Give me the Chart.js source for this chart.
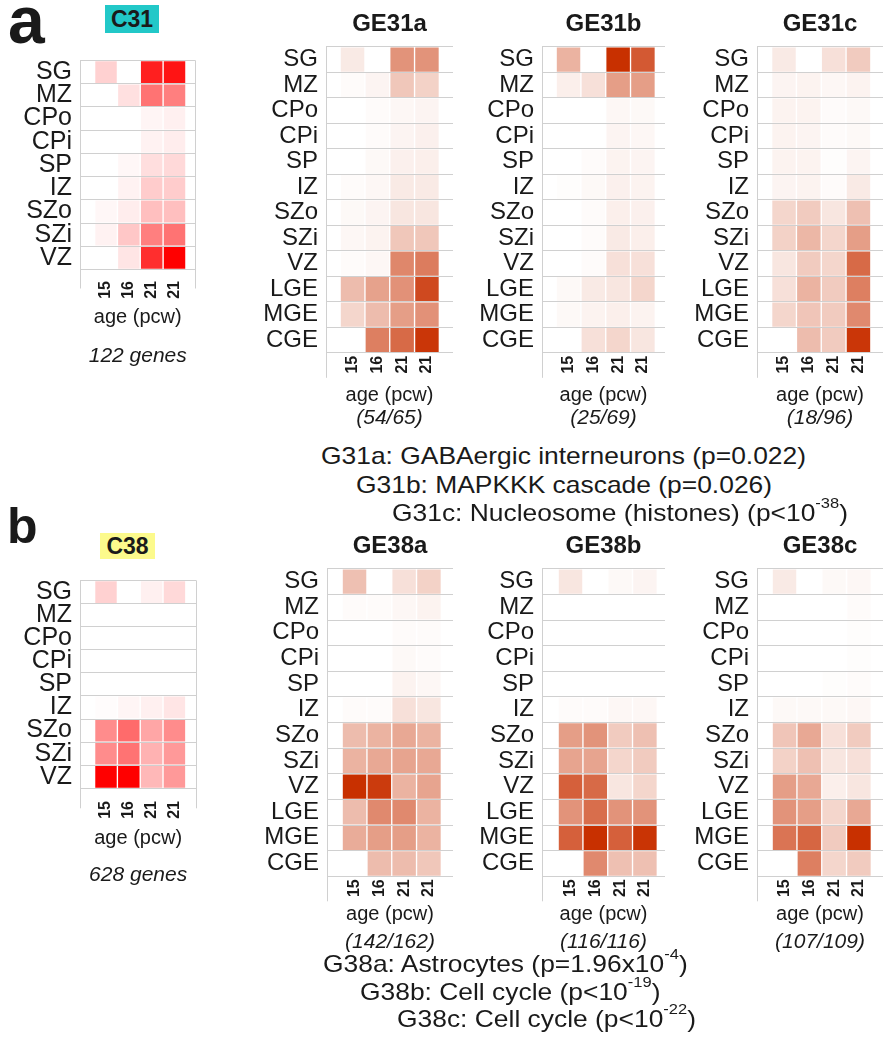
<!DOCTYPE html>
<html>
<head>
<meta charset="utf-8">
<script src="https://cdn.jsdelivr.net/npm/chart.js@4.4.1/dist/chart.umd.min.js"></script>
<style>
    body { margin: 0; background: #fff; }
    #page { position: relative; width: 893px; height: 1050px; overflow: hidden; font-family: 'Liberation Sans', Arial, sans-serif; color: #1a1a1a; }
    canvas { position: absolute; }
    .txt { position: absolute; white-space: nowrap; }
    .letter { font-weight: bold; }
    .badge { font-weight: bold; font-size: 23px; display: flex; align-items: center; justify-content: center; }
    .note { font-size: 24px; line-height: 24px; transform: scaleX(1.1); transform-origin: 0 0; }
    .note span { font-size: 15px; line-height: 0; vertical-align: 13px; }
</style>
</head>
<body>
<div id="page">
    <div class="txt letter" style="left:8px; top:-13px; font-size:66px; line-height:66px;">a</div>
    <div class="txt badge" style="left:105px; top:5px; width:54px; height:28px; background:#22c8c8;">C31</div>
    <div class="txt letter" style="left:7px; top:501px; font-size:50px; line-height:50px;">b</div>
    <div class="txt badge" style="left:100px; top:533px; width:55px; height:26px; background:#fcfa8c;">C38</div>

    <canvas id="c31" width="199" height="329" style="left:5px; top:40px;"></canvas>
    <canvas id="ge31a" width="217" height="431" style="left:236px; top:0px;"></canvas>
    <canvas id="ge31b" width="213" height="431" style="left:452px; top:0px;"></canvas>
    <canvas id="ge31c" width="216" height="431" style="left:667px; top:0px;"></canvas>

    <canvas id="c38" width="200" height="328" style="left:5px; top:560px;"></canvas>
    <canvas id="ge38a" width="216" height="433" style="left:237px; top:522px;"></canvas>
    <canvas id="ge38b" width="213" height="433" style="left:452px; top:522px;"></canvas>
    <canvas id="ge38c" width="216" height="433" style="left:667px; top:522px;"></canvas>

    <div class="txt note" style="left:321px; top:444px;">G31a: GABAergic interneurons (p=0.022)</div>
    <div class="txt note" style="left:356px; top:473px;">G31b: MAPKKK cascade (p=0.026)</div>
    <div class="txt note" style="left:392px; top:501px;">G31c: Nucleosome (histones) (p&lt;10<span>-38</span>)</div>

    <div class="txt note" style="left:323px; top:952px;">G38a: Astrocytes (p=1.96x10<span>-4</span>)</div>
    <div class="txt note" style="left:360px; top:980px;">G38b: Cell cycle (p&lt;10<span>-19</span>)</div>
    <div class="txt note" style="left:397px; top:1007px;">G38c: Cell cycle (p&lt;10<span>-22</span>)</div>
</div>

<script>
Chart.defaults.font.family = "'Liberation Sans', Arial, sans-serif";
Chart.defaults.color = '#1a1a1a';

var ages = ['15', '16', '21', '21'];
var cortexZones = ['SG', 'MZ', 'CPo', 'CPi', 'SP', 'IZ', 'SZo', 'SZi', 'VZ'];
var geZones = ['SG', 'MZ', 'CPo', 'CPi', 'SP', 'IZ', 'SZo', 'SZi', 'VZ', 'LGE', 'MGE', 'CGE'];

// relative expression, 0 = white .. 1 = darkest; one row per zone, one column per age
var c31 = [
    [0.18, 0, 0.88, 0.92],
    [0, 0.12, 0.55, 0.5],
    [0, 0, 0.04, 0.06],
    [0, 0, 0.05, 0.07],
    [0, 0.03, 0.13, 0.15],
    [0, 0.05, 0.2, 0.2],
    [0.03, 0.07, 0.25, 0.25],
    [0.05, 0.22, 0.5, 0.55],
    [0, 0.1, 0.82, 1.0]
];
var ge31a = [
    [0.1, 0, 0.52, 0.52],
    [0.02, 0.05, 0.27, 0.22],
    [0, 0.02, 0.04, 0.05],
    [0, 0.02, 0.05, 0.07],
    [0, 0.03, 0.07, 0.08],
    [0.02, 0.04, 0.1, 0.1],
    [0.03, 0.05, 0.12, 0.12],
    [0.04, 0.06, 0.27, 0.27],
    [0.02, 0.04, 0.58, 0.63],
    [0.32, 0.45, 0.53, 0.88],
    [0.2, 0.32, 0.47, 0.53],
    [0, 0.62, 0.72, 0.97]
];
var ge31b = [
    [0.37, 0, 1.0, 0.8],
    [0.08, 0.15, 0.47, 0.47],
    [0, 0, 0.04, 0.03],
    [0, 0, 0.05, 0.04],
    [0, 0.02, 0.06, 0.05],
    [0.01, 0.03, 0.07, 0.06],
    [0, 0.02, 0.08, 0.07],
    [0, 0.02, 0.1, 0.08],
    [0, 0.02, 0.15, 0.15],
    [0.03, 0.1, 0.12, 0.2],
    [0.03, 0.06, 0.08, 0.06],
    [0, 0.15, 0.2, 0.12]
];
var ge31c = [
    [0.1, 0, 0.15, 0.25],
    [0.05, 0.06, 0.04, 0.06],
    [0.06, 0.06, 0.02, 0.03],
    [0.06, 0.05, 0.02, 0.03],
    [0.06, 0.06, 0.01, 0.05],
    [0.05, 0.06, 0.02, 0.1],
    [0.2, 0.25, 0.12, 0.3],
    [0.22, 0.35, 0.2, 0.47],
    [0.12, 0.25, 0.2, 0.72],
    [0.15, 0.37, 0.25, 0.62],
    [0.2, 0.28, 0.25, 0.57],
    [0, 0.32, 0.25, 0.97]
];
var c38 = [
    [0.18, 0, 0.06, 0.15],
    [0, 0, 0, 0],
    [0, 0, 0, 0],
    [0, 0, 0, 0],
    [0, 0, 0, 0],
    [0.01, 0.04, 0.06, 0.1],
    [0.45, 0.58, 0.35, 0.45],
    [0.45, 0.55, 0.3, 0.4],
    [1.0, 1.0, 0.28, 0.4]
];
var ge38a = [
    [0.3, 0, 0.15, 0.22],
    [0.02, 0.02, 0.04, 0.06],
    [0, 0, 0.02, 0.02],
    [0, 0, 0.03, 0.02],
    [0, 0, 0.06, 0.04],
    [0.02, 0.02, 0.15, 0.12],
    [0.32, 0.37, 0.42, 0.37],
    [0.37, 0.42, 0.44, 0.42],
    [1.0, 0.95, 0.37, 0.44],
    [0.32, 0.57, 0.57, 0.37],
    [0.4, 0.47, 0.47, 0.37],
    [0, 0.32, 0.32, 0.27]
];
var ge38b = [
    [0.12, 0, 0.03, 0.05],
    [0, 0, 0, 0],
    [0, 0, 0, 0],
    [0, 0, 0, 0],
    [0, 0, 0, 0],
    [0.02, 0.02, 0.04, 0.04],
    [0.47, 0.52, 0.25, 0.3],
    [0.44, 0.44, 0.2, 0.25],
    [0.77, 0.72, 0.12, 0.2],
    [0.52, 0.7, 0.52, 0.52],
    [0.77, 1.0, 0.77, 0.98],
    [0, 0.57, 0.3, 0.3]
];
var ge38c = [
    [0.1, 0, 0.03, 0.04],
    [0, 0, 0, 0.02],
    [0, 0, 0, 0.01],
    [0, 0, 0, 0.01],
    [0, 0, 0.01, 0.02],
    [0.03, 0.03, 0.03, 0.04],
    [0.28, 0.42, 0.15, 0.25],
    [0.22, 0.3, 0.12, 0.15],
    [0.47, 0.42, 0.08, 0.12],
    [0.52, 0.47, 0.2, 0.42],
    [0.67, 0.74, 0.25, 1.0],
    [0, 0.62, 0.2, 0.25]
];

var redRGB = '255,0,0';
var geRGB = '200,48,0';
var gridColor = '#d0d0d0';

// g holds the sizes of one panel: label column, paddings, axis height, x range
function makeHeatmap(id, zones, values, rgb, title, note, g) {
    var ctx = document.getElementById(id).getContext('2d');

    var datasets = ages.map(function (age, col) {
        return {
            label: age,
            data: zones.map(function () { return [col - 0.5, col + 0.5]; }),
            backgroundColor: values.map(function (row) { return 'rgba(' + rgb + ',' + row[col] + ')'; }),
            borderColor: '#ffffff',
            borderWidth: 1,
            borderSkipped: false,
            grouped: false,
            barPercentage: 1,
            categoryPercentage: 1
        };
    });

    return new Chart(ctx, {
        type: 'bar',
        data: { labels: zones, datasets: datasets },
        options: {
            indexAxis: 'y',
            responsive: false,
            animation: false,
            layout: { autoPadding: false, padding: { top: g.padTop } },
            plugins: {
                legend: { display: false },
                tooltip: { enabled: false },
                title: {
                    display: !!title,
                    text: title,
                    fullSize: false,
                    font: { size: 24, weight: 'bold', lineHeight: 1.2 },
                    padding: { top: 10, bottom: 8 }
                },
                subtitle: {
                    display: true,
                    position: 'bottom',
                    text: note,
                    fullSize: false,
                    font: { size: 21, style: 'italic', lineHeight: 1.2 },
                    padding: { top: g.notePad, bottom: 0 }
                }
            },
            scales: {
                x: {
                    type: 'linear',
                    min: g.min,
                    max: g.max,
                    afterBuildTicks: function (scale) {
                        scale.ticks = [scale.min, 0, 1, 2, 3, scale.max].map(function (v) { return { value: v }; });
                    },
                    afterFit: function (scale) { scale.height = g.axisH; },
                    grid: {
                        z: 1,
                        tickLength: g.tickLen,
                        color: function (c) {
                            return (c.index === 0 || c.index === 5) ? gridColor : 'rgba(0,0,0,0)';
                        }
                    },
                    border: { display: false },
                    ticks: {
                        autoSkip: false,
                        minRotation: 90,
                        maxRotation: 90,
                        padding: g.tickPad,
                        font: { size: 16, weight: 'bold', lineHeight: 1 },
                        callback: function (value) { return ages[value] || ''; }
                    },
                    title: {
                        display: true,
                        text: 'age (pcw)',
                        font: { size: 20, lineHeight: 1 },
                        padding: 0
                    }
                },
                y: {
                    offset: true,
                    afterFit: function (scale) { scale.width = g.yW; },
                    grid: { z: 1, offset: true, drawTicks: false, color: gridColor },
                    border: { display: false },
                    ticks: { autoSkip: false, padding: 8, font: { size: g.labelSize, lineHeight: 1 } }
                }
            }
        }
    });
}

var cortexA = { yW: 75, labelSize: 25, padTop: 9.6, axisH: 57.5, tickLen: 19, tickPad: -7.5, notePad: 16.8 };
var cortexB = { yW: 75, labelSize: 25, padTop: 9.3, axisH: 59.7, tickLen: 20, tickPad: -7.3, notePad: 14.8 };
var geA = { yW: 90, labelSize: 24, padTop: 0, axisH: 53, tickLen: 25, tickPad: -22, notePad: 0 };
var geB = { yW: 90, labelSize: 24, padTop: 0, axisH: 48, tickLen: 25, tickPad: -22, notePad: 5.5 };

function withRange(base, min, max) {
    return Object.assign({}, base, { min: min, max: max });
}

makeHeatmap('c31', cortexZones, c31, redRGB, '', '122 genes', withRange(cortexA, -1.14, 3.92));
makeHeatmap('ge31a', geZones, ge31a, geRGB, 'GE31a', '(54/65)', withRange(geA, -1.07, 4.05));
makeHeatmap('ge31b', geZones, ge31b, geRGB, 'GE31b', '(25/69)', withRange(geA, -1.07, 3.89));
makeHeatmap('ge31c', geZones, ge31c, geRGB, 'GE31c', '(18/96)', withRange(geA, -1.09, 3.99));

makeHeatmap('c38', cortexZones, c38, redRGB, '', '628 genes', withRange(cortexB, -1.14, 3.96));
makeHeatmap('ge38a', geZones, ge38a, geRGB, 'GE38a', '(142/162)', withRange(geB, -1.11, 3.97));
makeHeatmap('ge38b', geZones, ge38b, geRGB, 'GE38b', '(116/116)', withRange(geB, -1.15, 3.81));
makeHeatmap('ge38c', geZones, ge38c, geRGB, 'GE38c', '(107/109)', withRange(geB, -1.11, 3.97));
</script>
</body>
</html>
